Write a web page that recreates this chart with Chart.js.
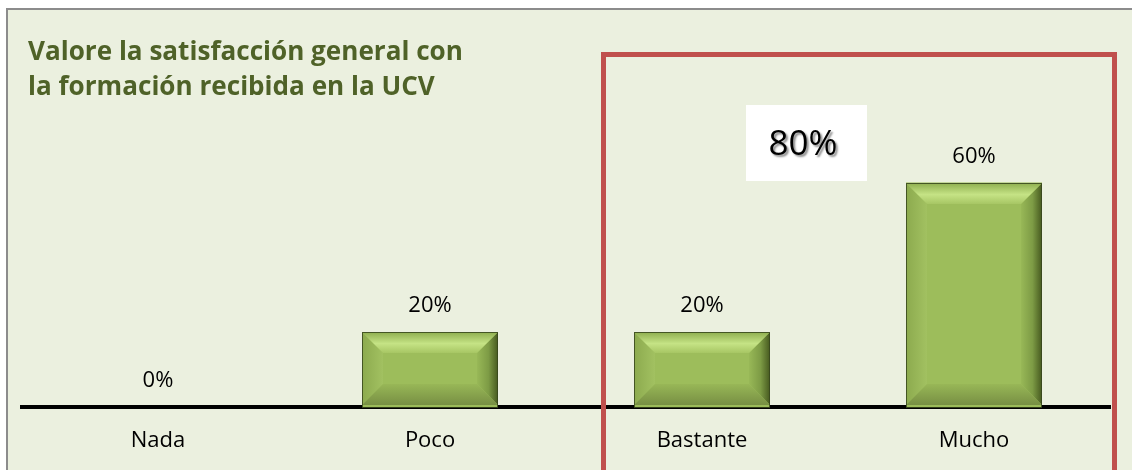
<!DOCTYPE html>
<html>
<head>
<meta charset="utf-8">
<script src="https://cdn.jsdelivr.net/npm/chart.js@4.4.1/dist/chart.umd.min.js"></script>
<style>
  html, body { margin: 0; padding: 0; background: #ffffff; overflow: hidden; }
  #wrap { width: 1132px; height: 470px; position: relative; }
</style>
</head>
<body>
<div id="wrap"><canvas id="c"></canvas></div>
<script>
// ---- data ----
const categories = ['Nada', 'Poco', 'Bastante', 'Mucho'];
const percentages = [0, 20, 20, 60];
const titleLines = ['Valore la satisfacción general con', 'la formación recibida en la UCV'];
const highlightedCategories = ['Bastante', 'Mucho'];
const yAxisMax = 100;

const highlightedTotal = categories.reduce((s, c, i) => highlightedCategories.includes(c) ? s + percentages[i] : s, 0);

const FONT = '"Open Sans", "DejaVu Sans", sans-serif';

function poly(ctx, pts, fill) {
  ctx.beginPath();
  ctx.moveTo(pts[0][0], pts[0][1]);
  for (let i = 1; i < pts.length; i++) ctx.lineTo(pts[i][0], pts[i][1]);
  ctx.closePath();
  ctx.fillStyle = fill;
  ctx.fill();
}
function grad(ctx, x0, y0, x1, y1, stops) {
  const g = ctx.createLinearGradient(x0, y0, x1, y1);
  stops.forEach(s => g.addColorStop(s[0], s[1]));
  return g;
}
function drawBevelBar(ctx, x, y, base, w) {
  const L = Math.round(x - w / 2), R = Math.round(x + w / 2), T = Math.round(y), B = Math.round(base) - 2;
  const h = B - T;
  if (h <= 1) return;
  const b = Math.min(21, h / 2, (R - L) / 2);
  ctx.save();
  ctx.fillStyle = '#9DBD5B';
  ctx.fillRect(L, T, R - L, h);
  poly(ctx, [[L, T], [L + b, T + b], [L + b, B - b], [L, B]],
    grad(ctx, L, 0, L + b, 0, [[0, '#8CAA4E'], [1, '#A2C161']]));
  poly(ctx, [[R, T], [R - b, T + b], [R - b, B - b], [R, B]],
    grad(ctx, R - b, 0, R, 0, [[0, '#98B857'], [0.55, '#7D9B45'], [1, '#46591F']]));
  poly(ctx, [[L, T], [R, T], [R - b, T + b], [L + b, T + b]],
    grad(ctx, 0, T, 0, T + b, [[0, '#8EAE4F'], [0.55, '#C5E385'], [1, '#A7C664']]));
  poly(ctx, [[L, B], [R, B], [R - b, B - b], [L + b, B - b]],
    grad(ctx, 0, B - b, 0, B, [[0, '#98B757'], [1, '#778F43']]));
  ctx.strokeStyle = 'rgba(55,70,28,0.85)';
  ctx.lineWidth = 1;
  ctx.strokeRect(L + 0.5, T + 0.5, R - L - 1, h + 2);
  ctx.restore();
}

const decorPlugin = {
  id: 'decor',
  beforeDraw(chart) {
    const ctx = chart.ctx;
    ctx.save();
    ctx.fillStyle = '#ffffff';
    ctx.fillRect(0, 0, chart.width, chart.height);
    ctx.fillStyle = '#EBF0DF';
    ctx.fillRect(7, 9, chart.width, chart.height);
    ctx.strokeStyle = '#8C8C8C';
    ctx.lineWidth = 2;
    ctx.strokeRect(7, 9, chart.width + 10, chart.height + 10);
    // title
    ctx.font = 'bold 100px ' + FONT;
    const w = ctx.measureText(titleLines[0]).width;
    const size = 100 * 435 / w;
    ctx.font = 'bold ' + size.toFixed(2) + 'px ' + FONT;
    ctx.fillStyle = '#4F6228';
    ctx.textAlign = 'left';
    ctx.textBaseline = 'alphabetic';
    ctx.fillText(titleLines[0], 28, 60);
    ctx.fillText(titleLines[1], 28, 95);
    ctx.restore();
  },
  afterDatasetsDraw(chart) {
    const ctx = chart.ctx;
    const meta = chart.getDatasetMeta(0);
    meta.data.forEach((bar, i) => {
      const p = bar.getProps(['x', 'y', 'base', 'width'], true);
      drawBevelBar(ctx, p.x, p.y, p.base, p.width);
      ctx.save();
      ctx.font = '22px ' + FONT;
      ctx.fillStyle = '#000000';
      ctx.textAlign = 'center';
      ctx.textBaseline = 'middle';
      ctx.fillText(percentages[i] + '%', p.x, p.y - 26);
      ctx.restore();
    });
  },
  afterDraw(chart) {
    const ctx = chart.ctx;
    ctx.save();
    // highlight frame
    ctx.strokeStyle = '#C0504D';
    ctx.lineWidth = 5;
    ctx.strokeRect(603.5, 54.5, 511, chart.height);
    // total box
    ctx.fillStyle = '#ffffff';
    ctx.fillRect(746, 105, 121, 76);
    ctx.font = '35px ' + FONT;
    ctx.textAlign = 'center';
    ctx.textBaseline = 'middle';
    ctx.shadowColor = 'rgba(0,0,0,0.45)';
    ctx.shadowOffsetX = 2;
    ctx.shadowOffsetY = 2;
    ctx.shadowBlur = 2;
    ctx.fillStyle = '#000000';
    ctx.fillText(highlightedTotal + '%', 803, 145);
    ctx.restore();
  }
};

new Chart(document.getElementById('c'), {
  type: 'bar',
  data: {
    labels: categories,
    datasets: [{
      data: percentages,
      backgroundColor: '#9BBB59',
      borderWidth: 0,
      categoryPercentage: 1,
      barPercentage: 0.5
    }]
  },
  options: {
    responsive: true,
    maintainAspectRatio: false,
    devicePixelRatio: 1,
    animation: false,
    layout: { padding: { left: 22, right: 22, top: 33, bottom: 15 } },
    plugins: { legend: { display: false }, tooltip: { enabled: false }, title: { display: false } },
    scales: {
      x: {
        z: 1,
        grid: { display: false, drawTicks: false },
        border: { display: true, color: '#000000', width: 4 },
        ticks: { color: '#000000', font: { family: FONT, size: 22 }, padding: 21 },
        afterFit(scale) { scale.height = 48; }
      },
      y: { display: false, min: 0, max: yAxisMax }
    }
  },
  plugins: [decorPlugin]
});
</script>
</body>
</html>
